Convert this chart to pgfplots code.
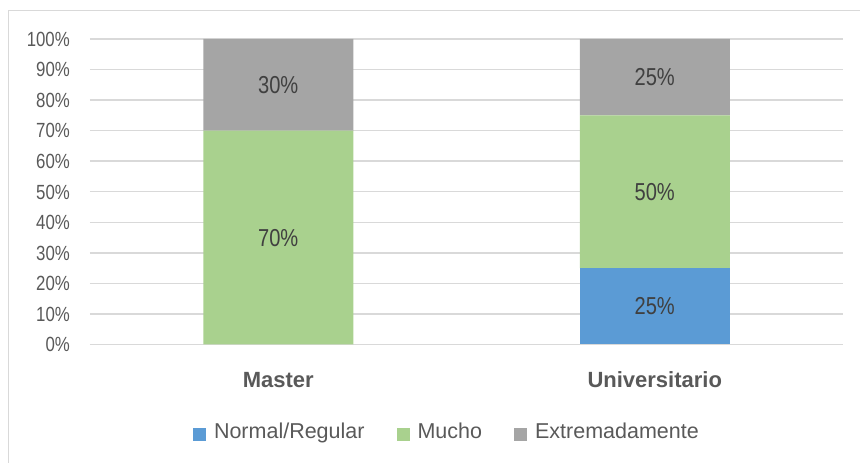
\documentclass[border=0pt]{standalone}
\usepackage{pgfplots}
\pgfplotsset{compat=1.18}
\usepackage{pgfplotstable}
\usepackage{fontspec}
\setmainfont{Liberation Sans}
\newfontfamily\narrowfont{Liberation Sans}[FakeStretch=0.82]
\definecolor{cblue}{HTML}{5B9BD5}
\definecolor{cgreen}{HTML}{A9D18E}
\definecolor{cgray}{HTML}{A5A5A5}
\definecolor{cgrid}{HTML}{D9D9D9}
\definecolor{ctext}{HTML}{595959}
\definecolor{clab}{HTML}{404040}

\pgfplotstableread{
x y lab
0 0 {}
1 25 25\%
}\tnormal
\pgfplotstableread{
x y lab
0 70 70\%
1 50 50\%
}\tmucho
\pgfplotstableread{
x y lab
0 30 30\%
1 25 25\%
}\textrem

\begin{document}
\begin{tikzpicture}
\useasboundingbox (0,0) rectangle (860pt,463pt);
\draw[color=cgrid, line width=1.5pt] (8.5pt,-10pt) rectangle (870pt,452.5pt);
\begin{axis}[
  at={(90pt,118.5pt)}, anchor=south west,
  scale only axis, width=753pt, height=305.5pt,
  ybar stacked, bar width=150pt,
  xmin=-0.5, xmax=1.5, ymin=0, ymax=100,
  enlargelimits=false,
  xtick={0,1}, xticklabels={Master,Universitario},
  ytick={0,10,...,100},
  yticklabel={\pgfmathprintnumber{\tick}\%},
  /pgf/number format/assume math mode=true,
  yticklabel style={font=\narrowfont\fontsize{20.5}{24}\selectfont, text=ctext, anchor=base east, inner sep=0pt, xshift=-20pt, yshift=-7.3pt},
  xticklabel style={font=\bfseries\fontsize{22}{26}\selectfont, text=ctext, anchor=base, inner sep=0pt, yshift=-43.5pt},
  major tick length=0pt,
  axis line style={draw=none},
  ymajorgrids, grid style={cgrid, line width=1.5pt},
  point meta=explicit symbolic,
  nodes near coords,
  every node near coord/.append style={font=\narrowfont\fontsize{24.5}{28}\selectfont, text=clab, anchor=center, inner sep=0pt},
  legend style={at={(0.1368,-0.257)}, anchor=north west, draw=none, fill=none, inner sep=0pt, outer sep=0pt,
    legend columns=3, font=\fontsize{21.5}{25}\selectfont, text=ctext,
    /tikz/every odd column/.append style={column sep=8pt},
    /tikz/every even column/.append style={column sep=32pt},
    nodes={inner sep=0pt}},
  legend image code/.code={\fill[#1,draw=none] (0pt,-9pt) rectangle (13pt,4pt);},
]
\addplot[fill=cblue, draw=none] table[x=x, y=y, meta=lab] {\tnormal};
\addplot[fill=cgreen, draw=none] table[x=x, y=y, meta=lab] {\tmucho};
\addplot[fill=cgray, draw=none] table[x=x, y=y, meta=lab] {\textrem};
\legend{Normal/Regular, Mucho, Extremadamente}
\end{axis}
\end{tikzpicture}
\end{document}
